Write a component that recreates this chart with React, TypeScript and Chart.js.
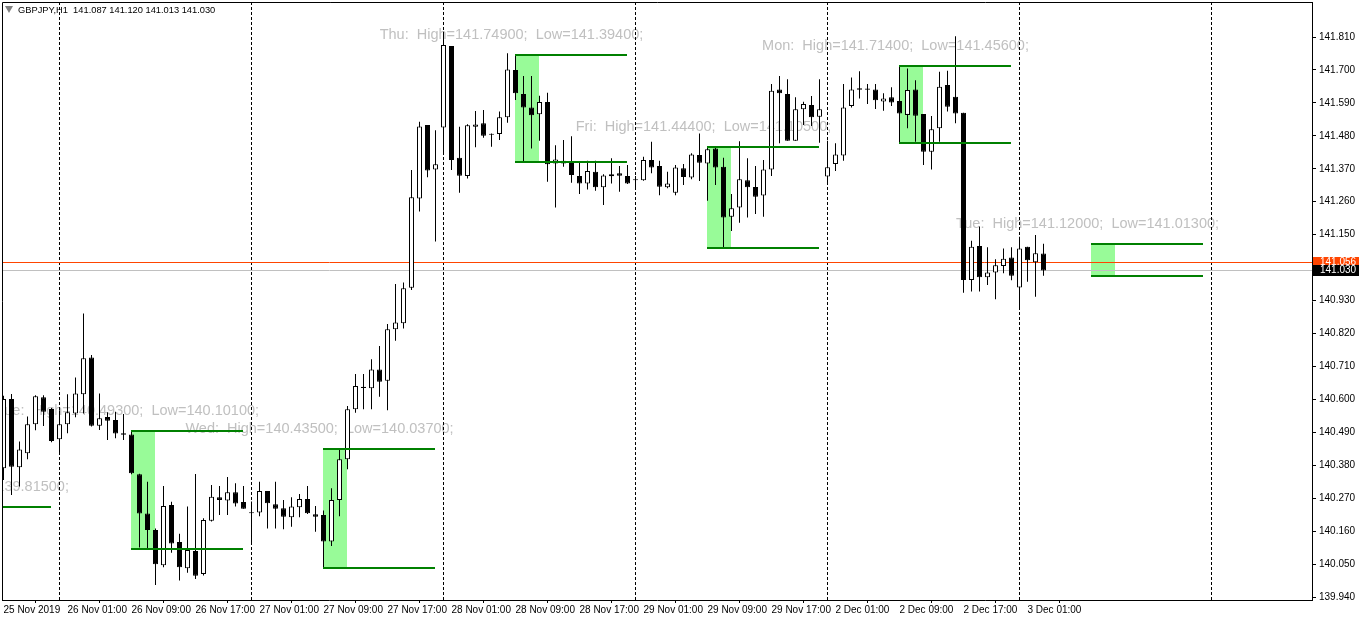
import { useEffect, useRef } from "react";
import { Chart, registerables } from "chart.js";

Chart.register(...registerables);

// ---- Data (GBPJPY H1, bar 0 = 25 Nov 2019 17:00) ----
const opens = [
  140.370, 140.601, 140.373, 140.420, 140.517, 140.607, 140.568, 140.467, 140.517, 140.553,
  140.617, 140.740, 140.512, 140.541, 140.531, 140.487, 140.483, 140.350, 140.219, 140.164,
  140.046, 140.247, 140.124, 140.036, 140.094, 140.017, 140.195, 140.273, 140.262, 140.290,
  140.257, 140.222, 140.222, 140.294, 140.250, 140.236, 140.206, 140.240, 140.267, 140.216,
  140.214, 140.125, 140.264, 140.400, 140.567, 140.642, 140.637, 140.700, 140.662, 140.834,
  140.854, 140.973, 141.271, 141.516, 141.368, 141.508, 141.780, 141.407, 141.346, 141.510,
  141.522, 141.486, 141.486, 141.542, 141.700, 141.620, 141.575, 141.552, 141.593, 141.388,
  141.397, 141.393, 141.346, 141.321, 141.360, 141.308, 141.345, 141.355, 141.346, 141.334,
  141.332, 141.399, 141.379, 141.308, 141.290, 141.372, 141.341, 141.416, 141.388, 141.438,
  141.377, 141.210, 141.241, 141.332, 141.309, 141.281, 141.368, 141.635, 141.620, 141.464,
  141.569, 141.583, 141.544, 141.344, 141.386, 141.414, 141.580, 141.639, 141.638, 141.635,
  141.595, 141.609, 141.596, 141.550, 141.635, 141.553, 141.427, 141.505, 141.650, 141.611,
  141.557, 140.999, 141.112, 141.008, 141.024, 141.045, 141.074, 140.974, 141.110, 141.058,
  141.087,
];
const highs = [
  140.612, 140.618, 140.459, 140.543, 140.614, 140.614, 140.572, 140.564, 140.617, 140.673,
  140.887, 140.748, 140.620, 140.557, 140.559, 140.551, 140.493, 140.352, 140.325, 140.169,
  140.311, 140.258, 140.151, 140.242, 140.351, 140.203, 140.314, 140.311, 140.341, 140.320,
  140.311, 140.259, 140.325, 140.294, 140.325, 140.264, 140.273, 140.284, 140.311, 140.244,
  140.229, 140.303, 140.435, 140.578, 140.685, 140.685, 140.734, 140.778, 140.852, 140.985,
  140.990, 141.366, 141.527, 141.516, 141.499, 141.828, 141.780, 141.510, 141.519, 141.563,
  141.566, 141.488, 141.561, 141.756, 141.749, 141.680, 141.680, 141.614, 141.624, 141.449,
  141.466, 141.479, 141.394, 141.397, 141.397, 141.352, 141.405, 141.379, 141.383, 141.346,
  141.410, 141.460, 141.397, 141.360, 141.383, 141.386, 141.422, 141.488, 141.444, 141.444,
  141.407, 141.286, 141.462, 141.405, 141.379, 141.399, 141.653, 141.680, 141.669, 141.609,
  141.594, 141.613, 141.669, 141.464, 141.455, 141.653, 141.675, 141.696, 141.653, 141.653,
  141.622, 141.642, 141.714, 141.705, 141.666, 141.553, 141.546, 141.694, 141.697, 141.813,
  141.557, 141.130, 141.177, 141.108, 141.068, 141.104, 141.108, 141.143, 141.110, 141.149,
  141.120,
];
const lows = [
  140.331, 140.281, 140.309, 140.400, 140.497, 140.511, 140.457, 140.414, 140.487, 140.540,
  140.553, 140.509, 140.498, 140.464, 140.470, 140.464, 140.350, 140.105, 140.101, 139.980,
  140.039, 140.088, 139.995, 140.021, 140.000, 140.012, 140.192, 140.214, 140.214, 140.242,
  140.235, 140.115, 140.210, 140.169, 140.169, 140.166, 140.175, 140.206, 140.217, 140.158,
  140.037, 140.110, 140.210, 140.367, 140.555, 140.567, 140.567, 140.609, 140.564, 140.796,
  140.837, 140.965, 141.227, 141.342, 141.127, 141.419, 141.366, 141.290, 141.338, 141.442,
  141.474, 141.444, 141.466, 141.524, 141.600, 141.394, 141.438, 141.464, 141.327, 141.241,
  141.377, 141.323, 141.286, 141.301, 141.297, 141.249, 141.321, 141.293, 141.319, 141.299,
  141.330, 141.355, 141.282, 141.305, 141.282, 141.316, 141.335, 141.329, 141.263, 141.316,
  141.105, 141.162, 141.190, 141.207, 141.219, 141.210, 141.346, 141.455, 141.464, 141.464,
  141.516, 141.513, 141.457, 141.319, 141.363, 141.397, 141.575, 141.605, 141.586, 141.570,
  141.564, 141.580, 141.456, 141.505, 141.460, 141.383, 141.368, 141.460, 141.561, 141.522,
  140.956, 140.960, 140.960, 140.982, 140.934, 141.021, 140.998, 140.901, 140.993, 140.943,
  141.013,
];
const closes = [
  140.601, 140.375, 140.433, 140.517, 140.610, 140.559, 140.461, 140.517, 140.557, 140.620,
  140.737, 140.512, 140.537, 140.529, 140.486, 140.482, 140.353, 140.219, 140.164, 140.049,
  140.244, 140.119, 140.039, 140.097, 140.011, 140.197, 140.275, 140.264, 140.290, 140.252,
  140.235, 140.220, 140.294, 140.253, 140.235, 140.208, 140.242, 140.267, 140.220, 140.208,
  140.125, 140.264, 140.400, 140.567, 140.645, 140.638, 140.700, 140.659, 140.834, 140.857,
  140.971, 141.275, 141.511, 141.364, 141.385, 141.783, 141.399, 141.347, 141.515, 141.518,
  141.480, 141.484, 141.542, 141.702, 141.622, 141.575, 141.549, 141.593, 141.385, 141.401,
  141.388, 141.349, 141.321, 141.363, 141.308, 141.348, 141.352, 141.347, 141.321, 141.332,
  141.399, 141.374, 141.310, 141.321, 141.374, 141.343, 141.418, 141.390, 141.435, 141.374,
  141.207, 141.238, 141.335, 141.308, 141.277, 141.368, 141.631, 141.622, 141.464, 141.569,
  141.586, 141.542, 141.569, 141.375, 141.418, 141.575, 141.635, 141.634, 141.634, 141.599,
  141.605, 141.591, 141.555, 141.633, 141.547, 141.427, 141.502, 141.644, 141.577, 141.555,
  140.999, 141.110, 141.008, 141.024, 141.048, 141.070, 141.013, 141.104, 141.065, 141.088,
  141.030,
];

// time axis labels (bar index -> text)
const xTickIndex = [0, 8, 16, 24, 32, 40, 48, 56, 64, 72, 80, 88, 96, 104, 112, 120, 128];
const xTickLabels = [
  "25 Nov 2019", "26 Nov 01:00", "26 Nov 09:00", "26 Nov 17:00", "27 Nov 01:00",
  "27 Nov 09:00", "27 Nov 17:00", "28 Nov 01:00", "28 Nov 09:00", "28 Nov 17:00",
  "29 Nov 01:00", "29 Nov 09:00", "29 Nov 17:00", "2 Dec 01:00", "2 Dec 09:00",
  "2 Dec 17:00", "3 Dec 01:00",
];
const shownPriceTicks = [
  139.94, 140.05, 140.16, 140.27, 140.38, 140.49, 140.6, 140.71, 140.82,
  140.93, 141.15, 141.26, 141.37, 141.48, 141.59, 141.7, 141.81,
];
// day separators (bar index of 00:00)
const separatorIndex = [7, 31, 55, 79, 103, 127, 151];
// daily range boxes
const rangeDays = ["Mon", "Tue", "Wed", "Thu", "Fri", "Mon", "Tue"];
const rangeStart = [-8, 16, 40, 64, 88, 112, 136];
const rangeHigh = [140.24, 140.493, 140.435, 141.749, 141.444, 141.714, 141.12];
const rangeLow = [139.815, 140.101, 140.037, 141.394, 141.105, 141.456, 141.013];
const askPrice = 141.056;
const bidPrice = 141.03;
const symbolName = "GBPJPY,H1";

const X_MIN = -0.1875;
const X_MAX = 163.5625;
const Y_MIN = 139.93;
const Y_MAX = 141.927;

const FONT = "'Liberation Sans', Arial, sans-serif";

const overlay = {
  id: "overlay",
  beforeDatasetsDraw(chart: any) {
    const { ctx, chartArea: a, scales } = chart;
    const x = scales.x;
    const y = scales.y;
    ctx.save();
    ctx.beginPath();
    ctx.rect(a.left, a.top, a.right - a.left, a.bottom - a.top);
    ctx.clip();
    // range boxes
    ctx.fillStyle = "#98fb98";
    rangeStart.forEach((s, k) => {
      const x0 = Math.floor(x.getPixelForValue(s));
      const x1 = Math.floor(x.getPixelForValue(s + 3));
      const y0 = Math.round(y.getPixelForValue(rangeHigh[k]));
      const y1 = Math.round(y.getPixelForValue(rangeLow[k]));
      ctx.fillRect(x0, y0, x1 - x0, y1 - y0);
    });
    // labels
    ctx.fillStyle = "#c0c0c0";
    ctx.font = `14.5px ${FONT}`;
    ctx.textAlign = "center";
    ctx.textBaseline = "middle";
    rangeStart.forEach((s, k) => {
      const cx = x.getPixelForValue(s) - 4;
      const cy = y.getPixelForValue(rangeHigh[k]) - 20;
      const txt = `${rangeDays[k]}:  High=${rangeHigh[k].toFixed(5)};  Low=${rangeLow[k].toFixed(5)};`;
      ctx.fillText(txt, cx, cy);
    });
    // separators
    ctx.strokeStyle = "#000";
    ctx.lineWidth = 1;
    ctx.setLineDash([3, 2]);
    separatorIndex.forEach((i) => {
      const px = Math.floor(x.getPixelForValue(i)) + 0.5;
      ctx.beginPath();
      ctx.moveTo(px, a.top);
      ctx.lineTo(px, a.bottom);
      ctx.stroke();
    });
    ctx.setLineDash([]);
    // bid / ask lines
    const ay = Math.floor(y.getPixelForValue(askPrice)) + 0.5;
    const by = Math.floor(y.getPixelForValue(bidPrice)) + 0.5;
    ctx.strokeStyle = "#c0c0c0";
    ctx.beginPath();
    ctx.moveTo(a.left, by);
    ctx.lineTo(a.right, by);
    ctx.stroke();
    ctx.strokeStyle = "#ff4500";
    ctx.beginPath();
    ctx.moveTo(a.left, ay);
    ctx.lineTo(a.right, ay);
    ctx.stroke();
    ctx.restore();
  },
  afterDatasetsDraw(chart: any) {
    const { ctx, chartArea: a, scales } = chart;
    const x = scales.x;
    const y = scales.y;
    ctx.save();
    ctx.beginPath();
    ctx.rect(a.left, a.top, a.right - a.left, a.bottom - a.top);
    ctx.clip();
    ctx.strokeStyle = "#008000";
    ctx.lineWidth = 2;
    rangeStart.forEach((s, k) => {
      const x0 = Math.floor(x.getPixelForValue(s));
      const x1 = Math.floor(x.getPixelForValue(s + 14));
      [rangeHigh[k], rangeLow[k]].forEach((p) => {
        const py = Math.round(y.getPixelForValue(p));
        ctx.beginPath();
        ctx.moveTo(x0, py);
        ctx.lineTo(x1, py);
        ctx.stroke();
      });
    });
    ctx.restore();
  },
  afterDraw(chart: any) {
    const { ctx, chartArea: a, scales } = chart;
    const y = scales.y;
    ctx.save();
    // frame top / left
    ctx.strokeStyle = "#000";
    ctx.lineWidth = 1;
    ctx.beginPath();
    ctx.moveTo(a.left + 0.5, a.bottom);
    ctx.lineTo(a.left + 0.5, a.top + 0.5);
    ctx.lineTo(a.right + 1, a.top + 0.5);
    ctx.stroke();
    // price tags
    ctx.font = `10px ${FONT}`;
    ctx.textAlign = "left";
    ctx.textBaseline = "middle";
    const tag = (p: number, bg: string) => {
      const py = Math.floor(y.getPixelForValue(p));
      ctx.fillStyle = bg;
      ctx.fillRect(a.right + 1, py - 5, 46, 11);
      ctx.fillStyle = "#ffffff";
      ctx.fillText(p.toFixed(3), a.right + 8, py + 0.5);
    };
    tag(askPrice, "#ff4500");
    tag(bidPrice, "#000000");
    // header
    const last = closes.length - 1;
    ctx.fillStyle = "#808080";
    ctx.beginPath();
    ctx.moveTo(a.left + 3, a.top + 4);
    ctx.lineTo(a.left + 11, a.top + 4);
    ctx.lineTo(a.left + 7, a.top + 11);
    ctx.closePath();
    ctx.fill();
    ctx.fillStyle = "#000";
    ctx.font = `9.3px ${FONT}`;
    ctx.textBaseline = "middle";
    const hdr = `${symbolName}  ${opens[last].toFixed(3)} ${highs[last].toFixed(3)} ${lows[last].toFixed(3)} ${closes[last].toFixed(3)}`;
    ctx.fillText(hdr, a.left + 16, a.top + 8);
    ctx.restore();
  },
};

export default function App() {
  const ref = useRef<HTMLCanvasElement>(null);
  useEffect(() => {
    const canvas = ref.current!;
    const idx = opens.map((_, i) => i);
    const wickData = idx.map((i) => ({ x: i, y: [lows[i], highs[i]] }));
    const bodyData = idx.map((i) => ({ x: i, y: [opens[i], closes[i]] }));
    const bodyFill = idx.map((i) => (closes[i] >= opens[i] ? "#ffffff" : "#000000"));
    const chart = new Chart(canvas, {
      type: "bar",
      data: {
        datasets: [
          {
            label: "body",
            data: bodyData as any,
            order: 0,
            grouped: false,
            barThickness: 5,
            backgroundColor: bodyFill,
            borderColor: "#000000",
            borderWidth: 1,
            borderSkipped: false,
            minBarLength: 1,
            inflateAmount: 0,
          } as any,
          {
            label: "wick",
            data: wickData as any,
            order: 1,
            grouped: false,
            barThickness: 1,
            backgroundColor: "#000000",
            borderWidth: 0,
            minBarLength: 1,
            inflateAmount: 0,
          } as any,
        ],
      },
      options: {
        responsive: false,
        animation: false,
        devicePixelRatio: 1,
        events: [],
        layout: { padding: { top: 2, left: 2, right: 0, bottom: 0 } },
        plugins: { legend: { display: false }, tooltip: { enabled: false } },
        scales: {
          x: {
            type: "linear",
            min: X_MIN,
            max: X_MAX,
            offset: false,
            position: "bottom",
            grid: { display: true, drawOnChartArea: false, drawTicks: true, tickLength: 3, color: "#000" },
            border: { display: true, color: "#000", width: 1 },
            ticks: {
              autoSkip: false,
              maxRotation: 0,
              minRotation: 0,
              align: "start",
              padding: 1,
              color: "#000",
              font: { family: FONT, size: 10 },
              callback: (v: any) => {
                const k = xTickIndex.indexOf(Number(v));
                return k >= 0 ? xTickLabels[k] : "";
              },
            },
            afterBuildTicks: (s: any) => {
              s.ticks = xTickIndex.map((v) => ({ value: v }));
            },
            afterFit: (s: any) => {
              s.height = 21;
              s.paddingLeft = 0;
              s.paddingRight = 0;
            },
          } as any,
          y: {
            type: "linear",
            position: "right",
            min: Y_MIN,
            max: Y_MAX,
            grid: { display: true, drawOnChartArea: false, drawTicks: true, tickLength: 4, color: "#000" },
            border: { display: true, color: "#000", width: 1 },
            ticks: {
              padding: 3,
              color: "#000",
              font: { family: FONT, size: 10 },
              callback: (v: any) => Number(v).toFixed(3),
            },
            afterBuildTicks: (s: any) => {
              s.ticks = shownPriceTicks.map((v) => ({ value: v }));
            },
            afterFit: (s: any) => {
              s.width = 50;
              s.paddingTop = 0;
              s.paddingBottom = 0;
            },
          } as any,
        },
      },
      plugins: [overlay],
    });
    return () => chart.destroy();
  }, []);
  return (
    <div style={{ position: "absolute", left: 0, top: 0, width: 1362, height: 621, background: "#fff" }}>
      <canvas ref={ref} width={1362} height={621} style={{ width: 1362, height: 621, display: "block" }} />
    </div>
  );
}
